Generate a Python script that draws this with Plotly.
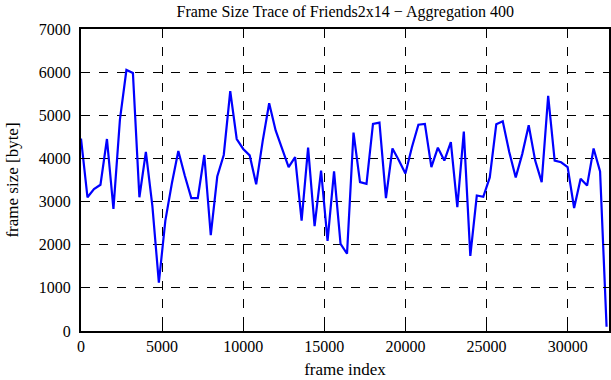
import plotly.graph_objects as go

step = 400
frame_size = [
    4460, 3100, 3290, 3390, 4450, 2830, 4900, 6050, 5980, 3100,
    4150, 2900, 1120, 2560, 3420, 4170, 3600, 3080, 3080, 4080,
    2220, 3580, 4080, 5560, 4450, 4220, 4070, 3400, 4400, 5280,
    4650, 4220, 3800, 4030, 2560, 4250, 2430, 3720, 2090, 3700,
    2020, 1790, 4600, 3450, 3410, 4800, 4830, 3080, 4230, 3950,
    3650, 4260, 4780, 4800, 3800, 4250, 3950, 4380, 2870, 4620,
    1740, 3140, 3110, 3560, 4790, 4860, 4150, 3560, 4100, 4770,
    3950, 3450, 5450, 3950, 3910, 3800, 2850, 3530, 3370, 4230,
    3700, 100,
]
frame_index = [i * step for i in range(len(frame_size))]

x_ticks = [0, 5000, 10000, 15000, 20000, 25000, 30000]
y_ticks = [0, 1000, 2000, 3000, 4000, 5000, 6000, 7000]

font = "Liberation Serif"

fig = go.Figure()
fig.add_trace(go.Scatter(
    x=frame_index, y=frame_size, mode="lines",
    line=dict(color="#0000ff", width=2.2), showlegend=False,
))

axis_common = dict(
    showline=True, linecolor="black", linewidth=2, mirror="ticks",
    ticks="inside", ticklen=6, tickcolor="black", tickwidth=1,
    showgrid=True, gridcolor="black", gridwidth=1, griddash="dash",
    zeroline=False, automargin=False,
    tickfont=dict(family=font, size=16, color="black"),
)

fig.update_layout(
    width=611, height=380,
    margin=dict(l=81, r=2, t=29, b=49),
    paper_bgcolor="white", plot_bgcolor="white",
    title=dict(text="Frame Size Trace of Friends2x14 \u2212 Aggregation 400",
               x=0.565, xanchor="center", y=0.97, yanchor="middle",
               font=dict(family=font, size=16, color="black")),
    xaxis=dict(range=[0, 32550], tickvals=x_ticks,
               ticktext=[str(v) for v in x_ticks],
               title=dict(text="frame index", standoff=9,
                          font=dict(family=font, size=17, color="black")),
               **axis_common),
    yaxis=dict(range=[0, 7000], tickvals=y_ticks,
               ticktext=[str(v) for v in y_ticks], ticklabelstandoff=5,
               title=dict(text="frame size [byte]", standoff=16,
                          font=dict(family=font, size=17, color="black")),
               **axis_common),
)

fig.write_html(
    "out.html",
    config={"displayModeBar": False},
    post_script="document.body.style.margin='0';document.body.style.overflow='hidden';",
)
